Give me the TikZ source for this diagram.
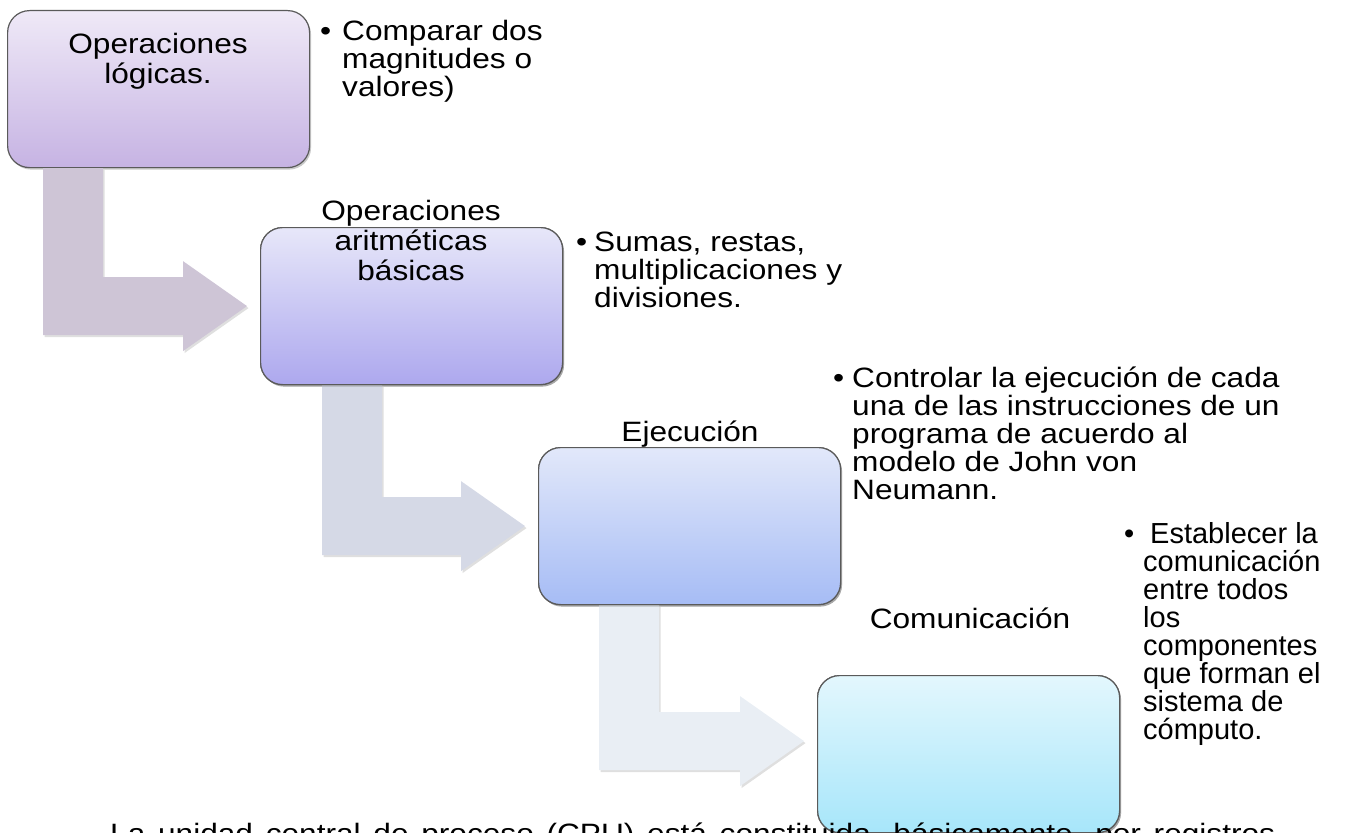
\documentclass[tikz,border=0pt]{standalone}
\usepackage{fontspec}
\setmainfont{Liberation Sans}[FakeStretch=1.13]
\newfontfamily\plainsans{Liberation Sans}
\usetikzlibrary{calc,shadows}
\definecolor{boxline}{HTML}{5A5A5A}
\definecolor{lilatop}{HTML}{EFE9F7}
\definecolor{lilabot}{HTML}{C6B3E3}
\definecolor{violtop}{HTML}{E7E7F9}
\definecolor{violbot}{HTML}{ADA8EE}
\definecolor{bluetop}{HTML}{E2E8FA}
\definecolor{bluebot}{HTML}{A6BCF5}
\definecolor{cyantop}{HTML}{E3F7FD}
\definecolor{cyanbot}{HTML}{A7E6FA}
\definecolor{arrowone}{HTML}{CEC5D6}
\definecolor{arrowtwo}{HTML}{D5D9E6}
\definecolor{arrowthree}{HTML}{E9EEF4}
\tikzset{
stagebox/.style={rectangle, rounded corners=22pt, draw=boxline, line width=1.2pt, inner sep=0pt, minimum width=302pt, minimum height=157pt, anchor=north west, drop shadow={shadow xshift=1.5pt, shadow yshift=-2pt, opacity=0.35, fill=black!60}},
bentarrow/.style={draw=none, drop shadow={shadow xshift=1.5pt, shadow yshift=-2pt, opacity=0.25, fill=black!50}},
stagelabel/.style={align=center, inner sep=0pt, anchor=base, font=\fontsize{28}{30}\selectfont},
bulletnote/.style={align=left, inner sep=0pt, anchor=base west, font=\fontsize{28}{28}\selectfont},
}
% bent block arrow from one box down and right into the next
% #1 source box, #2 target box, #3 stem offset, #4 colour, #5 vertical shift of the bar
\newcommand\stagearrow[5]{%
\fill[#4, bentarrow] let \p1 = (#1.south west), \p2 = (#2.west) in
 ({\x1+#3}, {\y1}) -- ({\x1+#3+60pt}, {\y1}) -- ({\x1+#3+60pt}, {\y2+#5+29pt})
 -- ({\x2-77pt}, {\y2+#5+29pt}) -- ({\x2-77pt}, {\y2+#5+45pt}) -- ({\x2-13pt}, {\y2+#5})
 -- ({\x2-77pt}, {\y2+#5-45pt}) -- ({\x2-77pt}, {\y2+#5-29pt}) -- ({\x1+#3}, {\y2+#5-29pt}) -- cycle;}

\begin{document}
\begin{tikzpicture}[x=1pt, y=-1pt]
\useasboundingbox (0,0) rectangle (1359,832);
\clip (0,0) rectangle (1359,832);

%boxes
\node[stagebox, top color=lilatop, bottom color=lilabot] (logicas) at (7,10) {};
\node[stagebox, top color=violtop, bottom color=violbot] (aritmeticas) at (260,227) {};
\node[stagebox, top color=bluetop, bottom color=bluebot] (ejecucion) at (538,447) {};
\node[stagebox, top color=cyantop, bottom color=cyanbot] (comunicacion) at (817,675) {};

%arrows
\stagearrow{logicas}{aritmeticas}{36pt}{arrowone}{0pt}
\stagearrow{aritmeticas}{ejecucion}{62pt}{arrowtwo}{0pt}
\stagearrow{ejecucion}{comunicacion}{61pt}{arrowthree}{13pt}

%redraw boxes above the arrow heads
\node[stagebox, top color=violtop, bottom color=violbot] at (260,227) {};
\node[stagebox, top color=bluetop, bottom color=bluebot] at (538,447) {};
\node[stagebox, top color=cyantop, bottom color=cyanbot] at (817,675) {};

%labels (placed at the baseline of the last line)
\node[stagelabel] (lablog) at (158,84) {Operaciones\\lógicas.};
\node[stagelabel] (labari) at (411,280) {Operaciones\\aritméticas\\básicas};
\node[stagelabel] (labeje) at (690,441) {Ejecución};
\node[stagelabel] (labcom) at (970,628) {Comunicación};

%notes
\node[bulletnote] (notelog) at (342,97) {\llap{•\hspace{11pt}}Comparar dos\\magnitudes o\\valores)};
\node[bulletnote] (noteari) at (594,307) {\llap{•\hspace{7pt}}Sumas, restas,\\multiplicaciones y\\divisiones.};
\node[bulletnote] (noteeje) at (852,499) {\llap{•\hspace{8pt}}Controlar la ejecución de cada\\una de las instrucciones de un\\programa de acuerdo al\\modelo de John von\\Neumann.};
\node[bulletnote, font=\fontsize{29}{28}\plainsans] (notecom) at (1143,739) {\llap{•\hspace{9pt}}\hspace{7pt}Establecer la\\comunicación\\entre todos\\los\\componentes\\que forman el\\sistema de\\cómputo.};

%text running below
\node[anchor=base west, inner sep=0pt, font=\fontsize{28}{28}\selectfont] (cpu) at (110,843) {\makebox[1165pt][s]{La unidad central de proceso (CPU) está constituida, básicamente, por registros}};
\end{tikzpicture}
\end{document}
